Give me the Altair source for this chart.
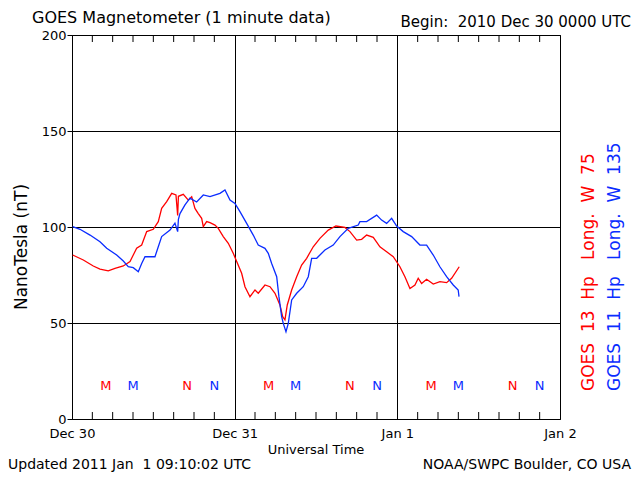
import altair as alt
import pandas as pd

# ---- data (hours since 2010 Dec 30 00:00 UTC, nT) ----
red_hours = [0.1, 1.67, 3.14, 4.13, 5.35, 6.34, 7.57, 8.56, 9.04, 9.54, 10.28, 11.02, 11.99,
             12.73, 13.23, 13.97, 14.71, 15.34, 15.59, 15.7, 16.42, 17.16, 17.66, 18.14, 18.63,
             19.13, 19.37, 19.87, 20.36, 21.09, 21.58, 22.32, 23.06, 23.79, 24.30, 25.03, 25.52,
             26.26, 27.0, 27.48, 28.47, 29.21, 29.95, 30.68, 31.08, 31.42, 31.76, 32.41, 33.15,
             33.88, 34.62, 35.59, 36.58, 37.81, 38.94, 40.27, 41.01, 42.0, 42.73, 43.47, 44.45,
             45.43, 46.42, 47.40, 48.38, 49.12, 49.86, 50.60, 51.08, 51.58, 52.32, 53.30, 54.28,
             55.27, 56.01, 57.13]
red_nt = [85.4, 82.8, 79.7, 78.1, 77.2, 78.5, 79.7, 82.0, 85.4, 88.9, 90.6, 97.6, 98.8,
          102.8, 109.7, 113.2, 117.5, 116.7, 106.0, 116.0, 117.0, 114.0, 115.8, 109.7, 107.0,
          104.5, 100.2, 102.8, 102.3, 101.0, 99.3, 95.0, 91.5, 86.3, 82.0, 75.9, 68.9,
          63.7, 67.2, 65.5, 69.8, 68.9, 65.5, 59.4, 53.3, 51.6, 59.4, 67.2, 74.1,
          80.2, 83.7, 89.7, 94.1, 98.4, 100.5, 99.8, 97.6, 93.2, 93.6, 95.8, 94.6,
          89.7, 87.1, 84.5, 79.3, 74.1, 68.0, 69.8, 73.3, 70.6, 72.8, 70.3, 71.5,
          71.0, 73.3, 79.3]

blue_hours = [0.1, 1.18, 2.66, 4.13, 5.12, 6.59, 7.57, 8.30, 9.04, 9.78, 10.28, 10.77, 12.24,
              12.73, 13.23, 14.46, 15.19, 15.59, 15.7, 15.93, 16.67, 17.41, 18.39, 19.37, 20.36,
              21.83, 22.57, 23.31, 24.04, 24.78, 25.77, 26.74, 27.48, 28.47, 28.96, 29.46, 30.20,
              30.53, 30.93, 31.17, 31.57, 31.91, 32.41, 33.15, 34.12, 34.86, 35.36, 36.10, 36.58,
              37.32, 38.54, 39.53, 40.76, 42.23, 42.48, 43.47, 44.95, 45.68, 46.42, 47.16, 47.90,
              48.87, 50.11, 51.33, 52.32, 53.30, 54.28, 55.27, 56.25, 56.98, 57.1]
blue_nt = [100.2, 98.8, 95.8, 92.3, 88.9, 85.4, 82.3, 79.3, 78.8, 76.7, 81.0, 84.5, 84.5,
           89.7, 95.0, 98.4, 102.0, 97.6, 104.0, 107.0, 111.5, 115.0, 113.0, 116.7, 115.8,
           117.5, 119.3, 114.0, 112.3, 108.0, 101.9, 95.8, 90.6, 88.9, 86.3, 81.0, 74.1,
           63.7, 53.3, 49.8, 45.5, 49.8, 62.0, 65.5, 68.9, 74.1, 83.7, 83.7, 85.4,
           88.0, 90.6, 95.0, 99.3, 101.0, 102.8, 102.8, 106.2, 103.6, 101.9, 104.5, 100.5,
           97.6, 95.0, 90.6, 90.6, 85.4, 79.3, 74.1, 69.8, 67.2, 63.7]

# local midnight (M) / noon (N) markers
marker_hours = [5, 9, 17, 21, 29, 33, 41, 45, 53, 57, 65, 69]
marker_text = ["M", "M", "N", "N", "M", "M", "N", "N", "M", "M", "N", "N"]
marker_sat = ["GOES 13", "GOES 11"] * 6
marker_nt = [17] * 12

minor_tick_hours = [3, 6, 9, 12, 15, 18, 21, 27, 30, 33, 36, 39, 42, 45,
                    51, 54, 57, 60, 63, 66, 69]
day_hours = [0, 24, 48, 72]
y_ticks = [0, 50, 100, 150, 200]

RED = "#ff0000"
BLUE = "#0a2cff"
FONT = "DejaVu Sans"
NB = "\u00a0"

series = pd.concat([
    pd.DataFrame({"hour": red_hours, "nt": red_nt, "sat": "GOES 13"}),
    pd.DataFrame({"hour": blue_hours, "nt": blue_nt, "sat": "GOES 11"}),
])
markers = pd.DataFrame({"hour": marker_hours, "nt": marker_nt, "txt": marker_text, "sat": marker_sat})
ticks = pd.DataFrame({"hour": minor_tick_hours})

xscale = alt.Scale(domain=[0, 72], nice=False, zero=False)
yscale = alt.Scale(domain=[0, 200], nice=False)
cscale = alt.Scale(domain=["GOES 13", "GOES 11"], range=[RED, BLUE])

label_expr = ("datum.value == 0 ? 'Dec 30' : datum.value == 24 ? 'Dec 31' : "
              "datum.value == 48 ? 'Jan 1' : 'Jan 2'")

lines = alt.Chart(series).mark_line(strokeWidth=1.3).encode(
    x=alt.X("hour:Q", scale=xscale,
            axis=alt.Axis(values=day_hours, labelExpr=label_expr, grid=True, gridColor="black",
                          gridOpacity=1, gridWidth=1, ticks=False, domain=False, title=None,
                          labelFont=FONT, labelFontSize=13, labelColor="black", labelPadding=8,
                          labelFlush=False, labelOverlap=False, labelBound=False)),
    y=alt.Y("nt:Q", scale=yscale,
            axis=alt.Axis(values=y_ticks, grid=True, gridColor="black", gridOpacity=1, gridWidth=1,
                          tickSize=5, tickColor="black", tickWidth=1, domain=False, title=None,
                          labelFont=FONT, labelFontSize=13, labelColor="black", labelPadding=1,
                          labelFlush=False, labelOverlap=False, labelBound=False)),
    color=alt.Color("sat:N", scale=cscale, legend=None),
    detail="sat:N",
)

mark_layer = alt.Chart(markers).mark_text(font=FONT, fontSize=13, baseline="middle", align="center").encode(
    x=alt.X("hour:Q", scale=xscale),
    y=alt.Y("nt:Q", scale=yscale),
    text="txt:N",
    color=alt.Color("sat:N", scale=cscale, legend=None),
)

top_ticks = alt.Chart(ticks).mark_rule(color="black", strokeWidth=1).encode(
    x=alt.X("hour:Q", scale=xscale), y=alt.value(0), y2=alt.value(7))
bot_ticks = alt.Chart(ticks).mark_rule(color="black", strokeWidth=1).encode(
    x=alt.X("hour:Q", scale=xscale), y=alt.value(384), y2=alt.value(377))


def label(txt, x, y, size, align="left", angle=0, color="black"):
    return alt.Chart(pd.DataFrame({"t": [txt]})).mark_text(
        font=FONT, fontSize=size, align=align, baseline="middle", angle=angle, color=color
    ).encode(text="t:N", x=alt.value(x), y=alt.value(y))


texts = [
    label("GOES Magnetometer (1 minute data)", -40, -17, 16),
    label(f"Begin:{NB}{NB}2010 Dec 30 0000 UTC", 559, -13, 15, align="right"),
    label("NanoTesla (nT)", -50, 212, 17, align="center", angle=270),
    label("Universal Time", 244, 415, 13, align="center"),
    label(f"Updated 2011 Jan{NB}{NB}1 09:10:02 UTC", -64, 430, 14),
    label("NOAA/SWPC Boulder, CO USA", 559, 430, 14, align="right"),
    label(f"GOES{NB}{NB}13{NB}{NB}Hp{NB}{NB}{NB}Long.{NB}{NB}W{NB}{NB}75", 517, 356, 17,
          angle=270, color=RED),
    label(f"GOES{NB}{NB}11{NB}{NB}Hp{NB}{NB}{NB}Long.{NB}{NB}W{NB}{NB}135", 543, 356, 17,
          angle=270, color=BLUE),
]

chart = alt.layer(lines, top_ticks, bot_ticks, mark_layer, *texts).properties(
    width=488, height=384,
    autosize=alt.AutoSizeParams(type="none"),
    padding={"left": 64, "top": 27, "right": 72, "bottom": 53},
    background="white",
).configure_view(stroke="black", strokeWidth=1)

chart.save("out.html", embed_options={"renderer": "svg", "actions": False})
